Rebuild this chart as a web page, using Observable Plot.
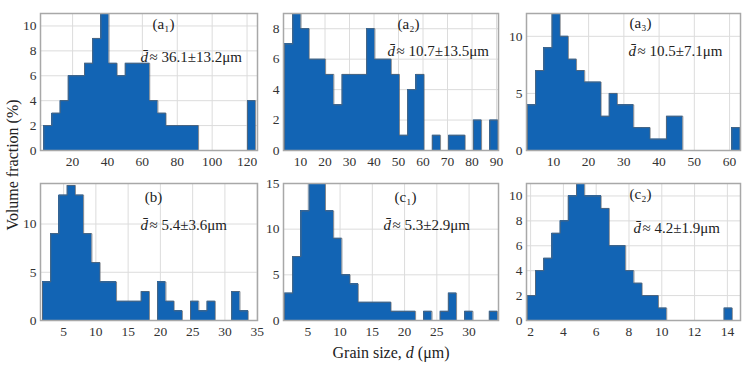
<!DOCTYPE html>
<html><head><meta charset="utf-8">
<script src="https://cdn.jsdelivr.net/npm/d3@7"></script>
<script src="https://cdn.jsdelivr.net/npm/@observablehq/plot@0.6"></script>
<style>
body{margin:0;background:#fff;}
#wrap{position:relative;width:747px;height:371px;overflow:hidden;background:#fff;font-family:"Liberation Serif","Times New Roman",serif;}
.p{position:absolute;}
#ylab{position:absolute;left:13px;top:165px;transform:translate(-50%,-50%) rotate(-90deg);font-size:16px;color:#222;white-space:nowrap;}
#xlab{position:absolute;left:391px;top:353px;transform:translate(-50%,-50%);font-size:16px;color:#222;white-space:nowrap;}
</style></head><body><div id="wrap"><div id="ylab">Volume fraction (%)</div><div id="xlab">Grain size, <i>d</i> (μm)</div></div>
<script>
// ---- data (histogram counts, bin start and bin width per panel) ----
const a1Counts = [2,3,4,6,6,7,9,11,7,6,7,7,7,4,3,2,2,2,2,0,0,0,0,0,0,4];
const a2Counts = [7,9,8,6,6,5,3,5,5,5,8,6,6,5,1,4,5,0,1,0,1,1,0,2,0,2];
const a3Counts = [4,7,9,12,10,8,7,6,6,3,5,4,4,2,2,1,1,3,3,0,0,0,0,0,0,2];
const bCounts  = [4,9,13,14,13,9,6,4,4,2,2,2,3,0,4,2,1,0,2,1,2,0,0,3,1];
const c1Counts = [3,7,12,15,15,12,9,5,4,2,2,2,2,1,1,1,0,1,0,1,3,0,1,0,0,1];
const c2Counts = [2,4,5,7,8,10,11,10,10,9,6,6,4,3,2,2,1,0,0,0,0,0,0,0,1];

const binStarts = [3.5, 3.5, 2.65, 1.73, 1.39, 1.8];
const binWidths = [4.67, 3.35, 2.32, 1.275, 1.27, 0.5];

const panelLabels = ["(a₁)", "(a₂)", "(a₃)", "(b)", "(c₁)", "(c₂)"];
const meanTexts = ["≈ 36.1±13.2μm", "≈ 10.7±13.5μm", "≈ 10.5±7.1μm", "≈ 5.4±3.6μm", "≈ 5.3±2.9μm", "≈ 4.2±1.9μm"];

const xTickLists = [[20,40,60,80,100,120],[10,20,30,40,50,60,70,80,90],[10,20,30,40,50,60],[5,10,15,20,25,30,35],[5,10,15,20,25,30],[2,4,6,8,10,12,14]];
const yTickLists = [[0,2,4,6,8,10],[0,2,4,6,8],[0,5,10],[0,5,10],[0,5,10,15],[0,2,4,6,8,10]];
const xDomains = [[1.6,126],[3.06,90.8],[2.37,63.1],[1.42,35.05],[1.23,34.56],[1.75,14.8]];
const yDomains = [[0,11],[0,9],[0,12],[0,14.2],[0,15],[0,11]];

const allCounts = [a1Counts,a2Counts,a3Counts,bCounts,c1Counts,c2Counts];

// ---- layout (frame boxes in px) ----
const colX = [[40,257],[283,498],[526,740]];
const rowY = [[13,150],[183,320]];
const labelPos = [[123,11,100,44],[125,11,104,38],[114,10,102,38],[113,14,100,42],[122,14,100,42],[114,11,107,45]];

const BLUE = "#1264b4";
const FONT = "'Liberation Serif', 'Times New Roman', serif";
const ml = 30, mr = 6, mt = 6, mb = 22;
const wrap = document.getElementById("wrap");

allCounts.forEach((counts, k) => {
  const col = colX[k % 3], row = rowY[Math.floor(k / 3)];
  const fw = col[1] - col[0], fh = row[1] - row[0];
  const s = binStarts[k], w = binWidths[k];
  const bins = counts.map((c, i) => ({x1: s + i * w, x2: s + (i + 1) * w, y: c}));
  const end = s + counts.length * w;
  const outline = [{x: s, y: 0}, ...bins.map(b => ({x: b.x1, y: b.y})), {x: end, y: counts[counts.length - 1]}, {x: end, y: 0}];
  const [ldx, ldy, ddx, ddy] = labelPos[k];
  const svg = Plot.plot({
    width: fw + ml + mr, height: fh + mt + mb,
    marginLeft: ml, marginRight: mr, marginTop: mt, marginBottom: mb,
    x: {domain: xDomains[k]},
    y: {domain: yDomains[k]},
    style: {fontFamily: FONT, fontSize: "13px", color: "#333", background: "transparent", overflow: "visible"},
    marks: [
      Plot.gridX(xTickLists[k], {stroke: "#dcdcdc", strokeOpacity: 1}),
      Plot.gridY(yTickLists[k], {stroke: "#dcdcdc", strokeOpacity: 1}),
      Plot.areaY(outline, {x: "x", y: "y", curve: "step-after", fill: BLUE}),
      Plot.rect(bins.filter(b => b.y > 0), {x1: "x1", x2: "x2", y1: 0, y2: "y", fill: BLUE, shapeRendering: "crispEdges"}),
      Plot.line(outline, {x: "x", y: "y", curve: "step-after", stroke: "#5f6770", strokeWidth: 0.8}),
      Plot.frame({stroke: "#a8a8a8", strokeWidth: 1.5}),
      Plot.axisX(xTickLists[k], {tickSize: 0, tickPadding: 6, label: null, fontSize: 13.5, fontFamily: FONT}),
      Plot.axisY(yTickLists[k], {tickSize: 0, tickPadding: 4, label: null, fontSize: 13.5, fontFamily: FONT}),
      Plot.text([panelLabels[k]], {frameAnchor: "top-left", dx: ldx, dy: ldy, text: d => d, textAnchor: "middle", lineAnchor: "middle", fontSize: 15, fontFamily: FONT, fill: "#222"}),
      Plot.text(["d\u0304"], {frameAnchor: "top-left", dx: ddx, dy: ddy, text: d => d, textAnchor: "start", lineAnchor: "middle", fontSize: 15, fontFamily: FONT, fontStyle: "italic", fill: "#222"}),
      Plot.text([meanTexts[k]], {frameAnchor: "top-left", dx: ddx + 9, dy: ddy, text: d => d, textAnchor: "start", lineAnchor: "middle", fontSize: 15, fontFamily: FONT, fill: "#222"})
    ]
  });
  svg.classList.add("p");
  svg.style.left = (col[0] - ml) + "px";
  svg.style.top = (row[0] - mt) + "px";
  wrap.appendChild(svg);
});
</script>
</body></html>
